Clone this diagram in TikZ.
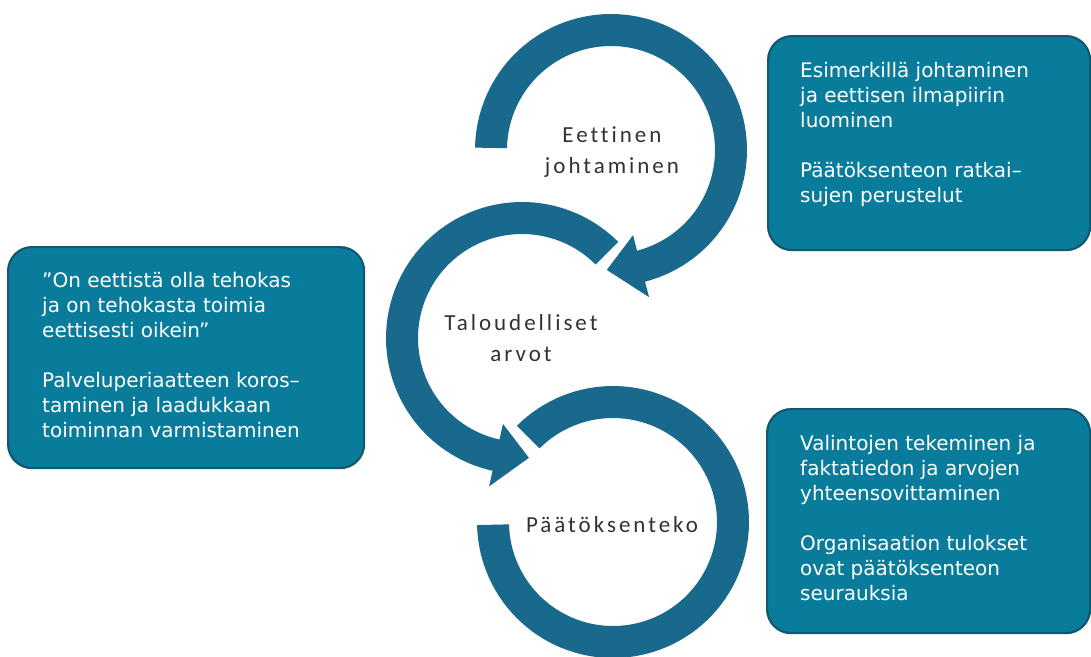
\documentclass[tikz,border=0pt]{standalone}
\usepackage{fontspec}
\setmainfont{DejaVu Sans}
\newfontfamily\ringfont[LetterSpace=13,Ligatures={NoCommon}]{Carlito}
\definecolor{ringcol}{RGB}{25,105,140}
\definecolor{boxfill}{RGB}{9,124,156}
\definecolor{boxedge}{RGB}{16,88,112}
\definecolor{labelcol}{RGB}{50,50,50}
\newcommand\ringarrow[5]{%
  \fill[ringcol] plot[domain=#3:#4,samples=90] ({#1+136*cos(\x)},{#2+136*sin(\x)})
    -- ({#1+152*cos(#4)},{#2+152*sin(#4)})
    -- ({#1+120*cos(#5)},{#2+120*sin(#5)})
    -- ({#1+88*cos(#4)},{#2+88*sin(#4)})
    -- plot[domain=#4:#3,samples=90] ({#1+104*cos(\x)},{#2+104*sin(\x)}) -- cycle;}
\begin{document}
\begin{tikzpicture}[x=1pt,y=-1pt,
  infobox/.style={draw=boxedge,fill=boxfill,line width=2.2pt,rounded corners=24pt,anchor=north west,inner sep=0pt},
  boxtext/.style={text=white,font=\fontsize{20}{25}\selectfont,align=left,anchor=base west,inner sep=0pt},
  ringtext/.style={text=labelcol,font=\ringfont\fontsize{23}{31}\selectfont,align=center,anchor=base,inner sep=0pt}]
\useasboundingbox (0,0) rectangle (1091,656);
% rings
\ringarrow{611}{150}{181}{435.5}{452}
\ringarrow{522}{338}{-45}{-257.5}{-273.3}
\fill[ringcol] plot[domain=225:538.7,samples=110] ({613+136*cos(\x)},{522+136*sin(\x)})
  -- plot[domain=538.7:225,samples=110] ({613+104*cos(\x)},{522+104*sin(\x)}) -- cycle;
% ring labels (anchor = baseline of last line)
\node[ringtext] (eet) at (612,173) {Eettinen\\johtaminen};
\node[ringtext] (tal) at (521,361) {Taloudelliset\\arvot};
\node[ringtext] (paa) at (612,532) {Päätöksenteko};
% boxes
\node[infobox,minimum width=322pt,minimum height=214pt] (tr) at (767,35) {};
\node[infobox,minimum width=356pt,minimum height=221pt] (lb) at (7,246) {};
\node[infobox,minimum width=323pt,minimum height=224pt] (br) at (766,408) {};
\node[boxtext] (trt) at (800,202) {Esimerkillä johtaminen\\ja eettisen ilmapiirin\\luominen\\[25pt]Päätöksenteon ratkai–\\sujen perustelut};
\node[boxtext] (lbt) at (42,437) {”On eettistä olla tehokas\\ja on tehokasta toimia\\eettisesti oikein”\\[25pt]Palveluperiaatteen koros–\\taminen ja laadukkaan\\toiminnan varmistaminen};
\node[boxtext] (brt) at (800,600) {Valintojen tekeminen ja\\faktatiedon ja arvojen\\yhteensovittaminen\\[25pt]Organisaation tulokset\\ovat päätöksenteon\\seurauksia};
\end{tikzpicture}
\end{document}
